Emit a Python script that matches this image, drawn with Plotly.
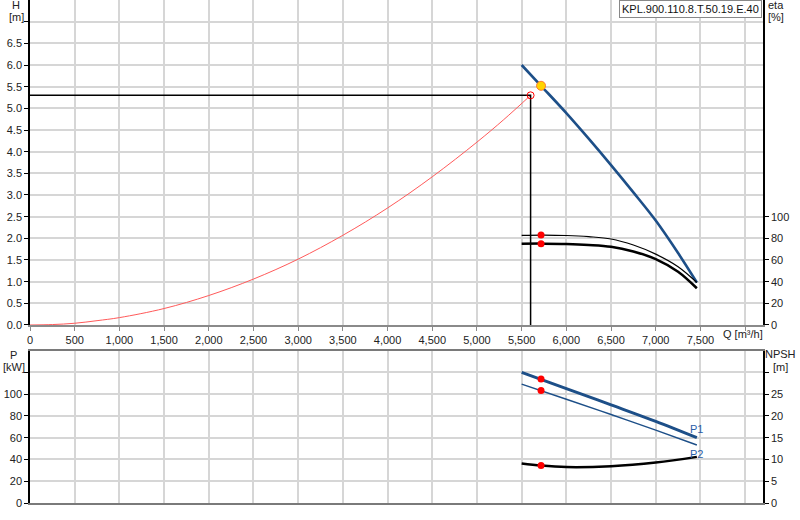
import plotly.graph_objects as go

# pump curve H(Q)
q_pump = [5500, 5717, 6000, 6250, 6500, 6750, 7000, 7250, 7460]
h_pump = [6.00, 5.52, 4.89, 4.30, 3.69, 3.06, 2.41, 1.66, 0.98]

# system curve
q_sys = [0, 250, 500, 750, 1000, 1500, 2000, 2500, 3000, 3500, 4000, 4500, 5000, 5300, 5600]
h_sys = [0.0, 0.01, 0.04, 0.10, 0.17, 0.38, 0.68, 1.06, 1.52, 2.07, 2.70, 3.42, 4.22, 4.74, 5.30]

# efficiency curves
q_eta = [5500, 5750, 6000, 6250, 6500, 6750, 7000, 7250, 7460]
eta_1 = [82.8, 83.0, 82.6, 81.5, 79.4, 73.8, 65.4, 53.8, 39.2]
eta_2 = [75.0, 75.1, 74.8, 73.9, 72.2, 67.8, 60.9, 49.2, 33.9]

# power curves
q_p = [5500, 6000, 6500, 7000, 7460]
p1 = [120.0, 105.2, 90.2, 75.0, 60.0]
p2 = [109.3, 95.4, 81.3, 67.0, 53.3]

# NPSH
q_npsh = [5500, 5717, 6000, 6500, 7000, 7460]
npsh = [9.1, 8.6, 8.25, 8.45, 9.3, 10.6]

# duty points
q_duty = 5717
h_duty = 5.52
eta1_duty, eta2_duty = 83.0, 75.1
p1_duty, p2_duty = 114.0, 103.4
npsh_duty = 8.6
q_op, h_op = 5600, 5.3

title_box = "KPL.900.110.8.T.50.19.E.40"

FONT = "Liberation Sans, Arial, sans-serif"
BLUE = "#1d4f88"
GRID = "#d6d6d6"

fig = go.Figure()

# system curve and crosshair
fig.add_trace(go.Scatter(x=q_sys, y=h_sys, mode="lines", line=dict(color="#ff5a5a", width=1, shape="spline"),
                         xaxis="x", yaxis="y"))
fig.add_trace(go.Scatter(x=[0, q_op, q_op], y=[h_op, h_op, 0], mode="lines", line=dict(color="black", width=1.5),
                         xaxis="x", yaxis="y"))
fig.add_trace(go.Scatter(x=q_pump, y=h_pump, mode="lines", line=dict(color=BLUE, width=2.6, shape="spline"),
                         xaxis="x", yaxis="y"))
fig.add_trace(go.Scatter(x=[q_op], y=[h_op], mode="markers",
                         marker=dict(symbol="circle-open", size=7, color="red", line=dict(width=1)),
                         xaxis="x", yaxis="y"))
fig.add_trace(go.Scatter(x=[q_duty], y=[h_duty], mode="markers",
                         marker=dict(size=9, color="#ffd400", line=dict(color="#ff7a30", width=1)),
                         xaxis="x", yaxis="y"))

# efficiency
fig.add_trace(go.Scatter(x=q_eta, y=eta_1, mode="lines", line=dict(color="black", width=1.2, shape="spline"),
                         xaxis="x", yaxis="y2"))
fig.add_trace(go.Scatter(x=q_eta, y=eta_2, mode="lines", line=dict(color="black", width=2.5, shape="spline"),
                         xaxis="x", yaxis="y2"))
fig.add_trace(go.Scatter(x=[q_duty, q_duty], y=[eta1_duty, eta2_duty], mode="markers",
                         marker=dict(size=7, color="red"), xaxis="x", yaxis="y2"))

# power
fig.add_trace(go.Scatter(x=q_p, y=p1, mode="lines", line=dict(color=BLUE, width=3, shape="spline"),
                         xaxis="x2", yaxis="y3"))
fig.add_trace(go.Scatter(x=q_p, y=p2, mode="lines", line=dict(color=BLUE, width=1.5, shape="spline"),
                         xaxis="x2", yaxis="y3"))
fig.add_trace(go.Scatter(x=[q_duty, q_duty], y=[p1_duty, p2_duty], mode="markers",
                         marker=dict(size=7, color="red"), xaxis="x2", yaxis="y3"))

# npsh
fig.add_trace(go.Scatter(x=q_npsh, y=npsh, mode="lines", line=dict(color="black", width=2.5, shape="spline"),
                         xaxis="x2", yaxis="y4"))
fig.add_trace(go.Scatter(x=[q_duty], y=[npsh_duty], mode="markers",
                         marker=dict(size=7, color="red"), xaxis="x2", yaxis="y4"))

tick_font = dict(family=FONT, size=11, color="#222")
qticks = list(range(0, 8001, 500))
qtext = [f"{v:,}" if v <= 7500 else "" for v in qticks]

hticks = [i * 0.5 for i in range(15)]
htext = [f"{v:.1f}" if v <= 6.5 else "" for v in hticks]

pticks = list(range(0, 121, 20))
ptext = [str(v) if v <= 100 else "" for v in pticks]
nticks = list(range(0, 31, 5))
ntext = [str(v) if v <= 25 else "" for v in nticks]

fig.update_layout(
    width=800, height=520,
    margin=dict(l=30, r=37, t=0, b=17),
    paper_bgcolor="white", plot_bgcolor="white",
    showlegend=False,
    font=tick_font,
    xaxis=dict(domain=[0, 1], range=[0, 8200], anchor="y", tickvals=qticks, ticktext=qtext,
               showgrid=True, gridcolor=GRID, gridwidth=1.5, zeroline=False, automargin=False,
               showline=True, linecolor="#8a8a8a", linewidth=2, mirror=True,
               ticks="outside", ticklen=4, tickcolor="#8a8a8a", tickfont=tick_font),
    yaxis=dict(domain=[0.3539, 1], range=[0, 7.5], anchor="x", tickvals=hticks, ticktext=htext,
               showgrid=True, gridcolor=GRID, gridwidth=1.5, zeroline=False, automargin=False,
               showline=True, linecolor="black", linewidth=1.5,
               ticks="outside", ticklen=4, tickcolor="black", tickfont=tick_font),
    yaxis2=dict(overlaying="y", side="right", anchor="x", range=[0, 300], tickvals=list(range(0, 101, 20)),
                showgrid=False, zeroline=False, showline=True, linecolor="black", linewidth=1.5,
                automargin=False, ticks="outside", ticklen=4, tickcolor="black", tickfont=tick_font),
    xaxis2=dict(domain=[0, 1], range=[0, 8200], anchor="y3", tickvals=qticks, showticklabels=False,
                showgrid=True, gridcolor=GRID, gridwidth=1.5, zeroline=False, automargin=False,
                showline=True, linecolor="#7a7a7a", linewidth=1.5, mirror=True, ticks=""),
    yaxis3=dict(domain=[0, 0.3028], range=[0, 140], anchor="x2", tickvals=pticks, ticktext=ptext,
                showgrid=True, gridcolor=GRID, gridwidth=1.5, zeroline=False, automargin=False,
                showline=True, linecolor="black", linewidth=1.5,
                ticks="outside", ticklen=4, tickcolor="black", tickfont=tick_font),
    yaxis4=dict(overlaying="y3", side="right", anchor="x2", range=[0, 35], tickvals=nticks, ticktext=ntext,
                showgrid=False, zeroline=False, showline=True, linecolor="black", linewidth=1.5,
                automargin=False, ticks="outside", ticklen=4, tickcolor="black", tickfont=tick_font),
)


def px(xp):
    return (xp - 30) / 733


def py(yp):
    return (503 - yp) / 503


labels = [
    ("H", 16, 5), ("[m]", 16, 17.5),
    ("eta", 776, 5), ("[%]", 776, 17),
    ("P", 13, 355), ("[kW]", 14, 367),
    ("NPSH", 780, 354), ("[m]", 780, 367),
]
for txt, xp, yp in labels:
    fig.add_annotation(text=txt, x=px(xp), y=py(yp), xref="paper", yref="paper",
                       showarrow=False, font=tick_font, xanchor="center", yanchor="middle")

fig.add_annotation(text="Q [m³/h]", x=px(721), y=py(334), xref="paper", yref="paper",
                   showarrow=False, font=tick_font, xanchor="left", yanchor="middle")

fig.add_annotation(text="P1", x=q_p[-1], y=p1[-1], xref="x2", yref="y3", showarrow=False,
                   font=dict(family=FONT, size=11, color="#2a5ea8"), xanchor="center", yanchor="bottom", yshift=1)
fig.add_annotation(text="P2", x=q_p[-1], y=p2[-1], xref="x2", yref="y3", showarrow=False,
                   font=dict(family=FONT, size=11, color="#2a5ea8"), xanchor="center", yanchor="top", yshift=-1)

fig.add_annotation(text=title_box, x=px(761.5), y=1, xref="paper", yref="paper", showarrow=False,
                   font=dict(family=FONT, size=11, color="#111"), xanchor="right", yanchor="top",
                   bgcolor="white", bordercolor="#888", borderwidth=1, borderpad=2)

# page body has a default 8px margin; drop it so the figure sits at the corner
fig.write_html("out.html", config={"displayModeBar": False},
               post_script="document.body.style.margin='0';")
